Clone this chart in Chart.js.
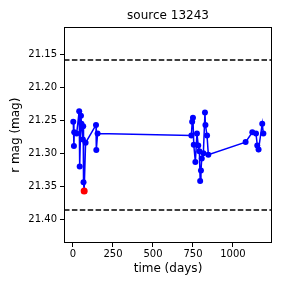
<!DOCTYPE html>
<html>
<head>
<meta charset="utf-8">
<script src="https://cdn.jsdelivr.net/npm/chart.js@4/dist/chart.umd.min.js"></script>
<style>
  html, body { margin: 0; padding: 0; background: #fff; }
</style>
</head>
<body>
<canvas id="c" width="288" height="288"></canvas>
<script>
// light curve points (days, r mag)
const times = [2, 6, 8, 23, 39, 42, 50, 53, 62, 64, 66, 70, 79, 144, 146, 154,
  740, 745, 750, 755, 765, 775, 783, 790, 795, 800, 805, 815, 825, 828, 838, 846,
  1079, 1121, 1144, 1152, 1160, 1183, 1190];
const mags = [21.252, 21.289, 21.268, 21.270, 21.236, 21.320, 21.243, 21.255, 21.279, 21.259, 21.344, 21.357, 21.284, 21.257, 21.295, 21.270,
  21.273, 21.252, 21.246, 21.287, 21.313, 21.270, 21.288, 21.297, 21.342, 21.326, 21.308, 21.300, 21.238, 21.257, 21.273, 21.302,
  21.283, 21.268, 21.270, 21.288, 21.294, 21.255, 21.270];

// flagged point
const flagTime = [70];
const flagMag = [21.357];

// limits
const upperLimit = 21.1586;
const lowerLimit = 21.386;

const xTicks = [0, 250, 500, 750, 1000];
const yTicks = [21.15, 21.20, 21.25, 21.30, 21.35, 21.40];
const xMin = -56, xMax = 1244;
const yMin = 21.109, yMax = 21.436;

const pts = times.map((t, i) => ({ x: t, y: mags[i] }));
const flagPts = flagTime.map((t, i) => ({ x: t, y: flagMag[i] }));
const hLine = v => [{ x: xMin, y: v }, { x: xMax, y: v }];

const frame = {
  id: "frame",
  afterDraw(chart) {
    const a = chart.chartArea;
    const ctx = chart.ctx;
    ctx.save();
    ctx.strokeStyle = "#000";
    ctx.lineWidth = 1;
    ctx.strokeRect(Math.round(a.left) + 0.5, Math.round(a.top) + 0.5,
      Math.round(a.right - a.left) - 1, Math.round(a.bottom - a.top) - 1);
    ctx.restore();
  }
};

Chart.defaults.font.family = "'DejaVu Sans', sans-serif";
Chart.defaults.color = "#000";

new Chart(document.getElementById("c"), {
  type: "line",
  data: {
    datasets: [
      {
        data: flagPts,
        showLine: false,
        pointRadius: 3.5,
        pointBorderWidth: 0,
        pointBackgroundColor: "#ff0000",
        borderColor: "#ff0000"
      },
      {
        data: pts,
        borderColor: "#0000ff",
        borderWidth: 1.5,
        pointRadius: 3,
        pointBorderWidth: 0,
        pointBackgroundColor: "#0000ff",
        tension: 0
      },
      {
        data: hLine(upperLimit),
        borderColor: "#000",
        borderWidth: 1.5,
        borderDash: [5.5, 2.4],
        pointRadius: 0
      },
      {
        data: hLine(lowerLimit),
        borderColor: "#000",
        borderWidth: 1.5,
        borderDash: [5.5, 2.4],
        pointRadius: 0
      }
    ]
  },
  options: {
    responsive: false,
    animation: false,
    layout: { padding: { left: 0, right: 16, top: 0, bottom: 0 } },
    plugins: {
      legend: { display: false },
      tooltip: { enabled: false },
      title: {
        display: true,
        text: "source 13243",
        fullSize: false,
        font: { size: 12, weight: "normal" },
        color: "#000",
        padding: { top: 9, bottom: 4 }
      }
    },
    scales: {
      x: {
        type: "linear",
        min: xMin,
        max: xMax,
        afterBuildTicks: axis => { axis.ticks = xTicks.map(v => ({ value: v })); },
        afterFit: axis => { axis.height = 45; },
        grid: { drawOnChartArea: false, drawTicks: true, tickLength: 4, color: "#000" },
        border: { display: false },
        ticks: { font: { size: 10 }, padding: 1, maxRotation: 0, callback: v => String(v) },
        title: { display: true, text: "time (days)", font: { size: 12 }, padding: { top: 0, bottom: 12 } }
      },
      y: {
        type: "linear",
        reverse: true,
        min: yMin,
        max: yMax,
        afterBuildTicks: axis => { axis.ticks = yTicks.map(v => ({ value: v })); },
        afterFit: axis => { axis.width = 64; },
        grid: { drawOnChartArea: false, drawTicks: true, tickLength: 4, color: "#000" },
        border: { display: false },
        ticks: { font: { size: 10 }, padding: 3, callback: v => v.toFixed(2) },
        title: { display: true, text: "r mag (mag)", font: { size: 12 }, padding: { top: 9, bottom: 0 } }
      }
    }
  },
  plugins: [frame]
});
</script>
</body>
</html>
